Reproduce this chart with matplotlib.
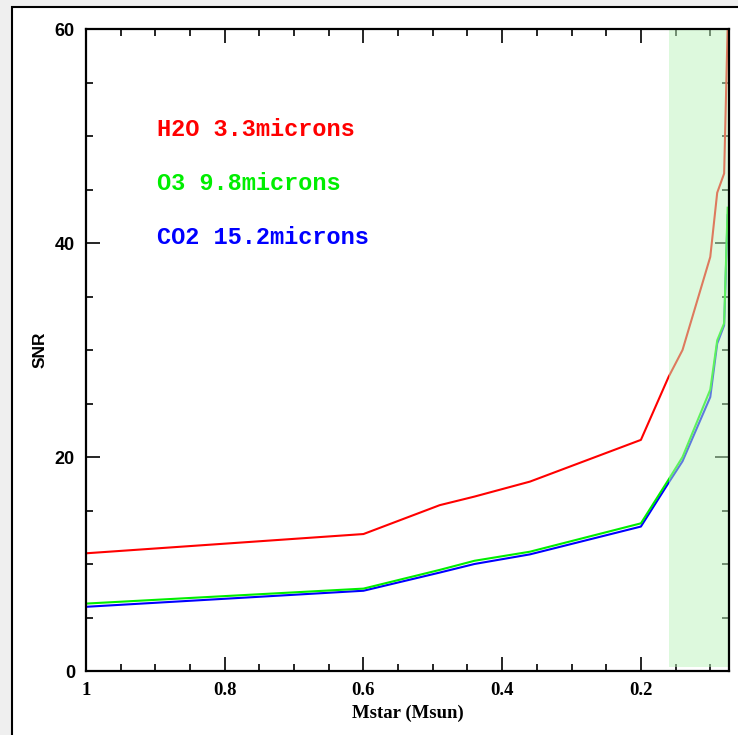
import matplotlib
matplotlib.use("Agg")
import matplotlib.pyplot as plt
from matplotlib.patches import Rectangle
from matplotlib.ticker import MultipleLocator, FixedLocator, FuncFormatter

# ---- data ----
mstar = [1.0, 0.6, 0.49, 0.44, 0.36, 0.2, 0.16, 0.14, 0.1, 0.09, 0.08, 0.075]
snr_h2o = [11.0, 12.8, 15.5, 16.3, 17.7, 21.6, 27.5, 30.0, 38.7, 44.7, 46.5, 60.0]
snr_o3 = [6.3, 7.7, 9.45, 10.3, 11.15, 13.8, 17.9, 20.0, 26.3, 30.9, 32.5, 43.3]
snr_co2 = [6.0, 7.5, 9.2, 10.0, 10.9, 13.5, 17.6, 19.6, 25.6, 30.6, 32.3, 42.6]
labels = ["H2O 3.3microns", "O3 9.8microns", "CO2 15.2microns"]
colors = ["#ff0000", "#00ee00", "#0000ff"]
shade_range = (0.16, 0.073)
xlim = (1.0, 0.073)
ylim = (0, 60)
x_ticks = [1, 0.8, 0.6, 0.4, 0.2]
y_ticks = [0, 20, 40, 60]

W, H = 738, 735
fig = plt.figure(figsize=(W / 100, H / 100), dpi=100)
fig.patch.set_facecolor("#efefef")

# window-like frame behind the plot
bg = fig.add_axes([0, 0, 1, 1], zorder=-10)
bg.set_xlim(0, W)
bg.set_ylim(H, 0)
bg.axis("off")
bg.add_patch(Rectangle((12, 7), W + 50, H + 50, facecolor="white",
                       edgecolor="black", linewidth=1.5))

ax = fig.add_axes([86 / W, (H - 671) / H, (729 - 86) / W, (671 - 29) / H])
ax.set_facecolor("none")
ax.set_axisbelow(True)

for y, c in zip([snr_h2o, snr_o3, snr_co2][::-1], colors[::-1]):
    ax.plot(mstar, y, color=c, lw=1.5, zorder=2)

ax.axvspan(shade_range[0], shade_range[1], ymin=0.006, ymax=1,
           facecolor="#bdf5bd", alpha=0.5, edgecolor="none", zorder=3)

ax.set_xlim(*xlim)
ax.set_ylim(*ylim)

ax.xaxis.set_major_locator(FixedLocator(x_ticks))
ax.xaxis.set_minor_locator(MultipleLocator(0.05))
ax.yaxis.set_major_locator(FixedLocator(y_ticks))
ax.yaxis.set_minor_locator(MultipleLocator(5))
ax.xaxis.set_major_formatter(FuncFormatter(lambda v, p: "1" if abs(v - 1) < 1e-9 else f"{v:.1f}"))
ax.yaxis.set_major_formatter(FuncFormatter(lambda v, p: f"{int(round(v))}"))

ax.tick_params(which="both", direction="in", top=True, right=True, width=1.2, color="black")
ax.tick_params(which="major", length=10)
ax.tick_params(which="minor", length=5)
ax.tick_params(axis="x", which="major", pad=8)
ax.tick_params(axis="y", which="major", pad=8)

for lab in ax.get_xticklabels():
    lab.set_fontfamily("Liberation Serif")
    lab.set_fontsize(13.5)
    lab.set_fontweight("bold")
for lab in ax.get_yticklabels():
    lab.set_fontfamily("Liberation Sans")
    lab.set_fontsize(13)
    lab.set_fontweight("bold")

for s in ax.spines.values():
    s.set_linewidth(1.6)
    s.set_zorder(4)

ax.set_xlabel("Mstar (Msun)", fontfamily="Liberation Serif", fontsize=13.5,
              fontweight="bold", labelpad=4)
ax.set_ylabel("SNR", fontfamily="Liberation Sans", fontsize=12.5,
              fontweight="bold", labelpad=5)

for i, (t, c) in enumerate(zip(labels, colors)):
    ax.text(0.11, 0.844 - i * 0.084, t, color=c, transform=ax.transAxes,
            fontfamily="Liberation Mono", fontsize=17, fontweight="bold",
            va="center", ha="left")

fig.savefig("out.png", dpi=100, facecolor=fig.get_facecolor())
